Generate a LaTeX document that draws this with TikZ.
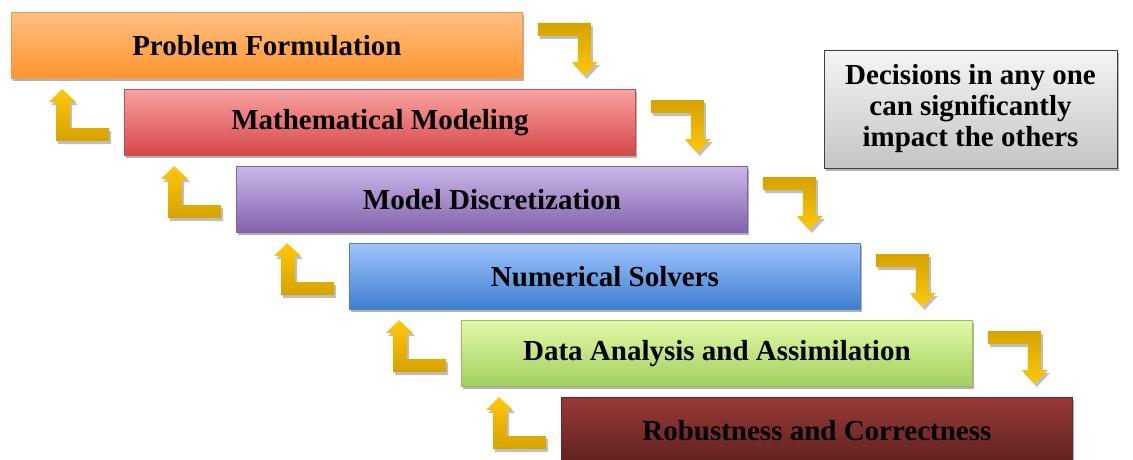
\documentclass[tikz,border=0pt]{standalone}
\usepackage{fontspec}
\setmainfont{Liberation Serif}
\usetikzlibrary{shadows}
\definecolor{oTop}{HTML}{FFBF80}\definecolor{oBot}{HTML}{FF9430}\definecolor{oBd}{HTML}{F79646}
\definecolor{rTop}{HTML}{F9A3A1}\definecolor{rBot}{HTML}{D64749}\definecolor{rBd}{HTML}{C0504D}
\definecolor{pTop}{HTML}{CBB6E8}\definecolor{pBot}{HTML}{8262AC}\definecolor{pBd}{HTML}{8064A2}
\definecolor{bTop}{HTML}{9EC4FF}\definecolor{bBot}{HTML}{3F7ECF}\definecolor{bBd}{HTML}{4F81BD}
\definecolor{gTop}{HTML}{E2F9A8}\definecolor{gBot}{HTML}{A2CF5E}\definecolor{gBd}{HTML}{9BBB59}
\definecolor{mTop}{HTML}{973A37}\definecolor{mBot}{HTML}{60211F}\definecolor{mBd}{HTML}{6E2422}
\definecolor{goldDark}{HTML}{D6A200}\definecolor{goldLight}{HTML}{FFC70A}
\definecolor{grTop}{HTML}{F5F5F5}\definecolor{grBot}{HTML}{C4C4C4}\definecolor{grBd}{HTML}{404040}
\begin{document}
\begin{tikzpicture}[x=1pt,y=-1pt,
  shade/.style={drop shadow={shadow xshift=2pt,shadow yshift=-3pt,opacity=0.3,fill=black}},
  stage/.style n args={3}{draw=#3,line width=0.8pt,top color=#1,bottom color=#2,
    minimum width=511pt,minimum height=66pt,anchor=north west,inner sep=0pt,
    font=\fontsize{29}{34}\selectfont\bfseries,shade},
  goldR/.style={top color=goldDark,bottom color=goldLight,draw=none,
    drop shadow={shadow xshift=2pt,shadow yshift=-3pt,opacity=0.25,fill=black}},
  goldL/.style={top color=goldLight,bottom color=goldDark,draw=none,
    drop shadow={shadow xshift=2pt,shadow yshift=-3pt,opacity=0.25,fill=black}},
  note/.style={draw=grBd,line width=0.8pt,top color=grTop,bottom color=grBot,
    minimum width=293pt,minimum height=118pt,inner sep=0pt,align=center,
    font=\fontsize{29}{31}\selectfont\bfseries,shade}
]
\clip (0,0) rectangle (1133,460);
\node[stage={oTop}{oBot}{oBd}] (b1) at (11,12) {Problem Formulation};
\node[stage={rTop}{rBot}{rBd}] (b2) at (124,89) {Mathematical Modeling};
\node[stage={pTop}{pBot}{pBd}] (b3) at (236,166) {Model Discretization};
\node[stage={bTop}{bBot}{bBd}] (b4) at (349,243) {Numerical Solvers};
\node[stage={gTop}{gBot}{gBd}] (b5) at (461,320) {Data Analysis and Assimilation};
\node[stage={mTop}{mBot}{mBd}] (b6) at (561,397) {Robustness and Correctness};
\node[note] (n) at (970.5,109) {Decisions in any one\\can significantly\\impact the others};
\foreach \a/\b in {b1/b2,b2/b3,b3/b4,b4/b5,b5/b6}{
  \begin{scope}[shift={(\a.north east)}]
    \path[goldR] (15,11) -- (68,11) -- (68,50) -- (75,50) -- (62,64) -- (49,50)
      -- (55,50) -- (55,24) -- (15,24) -- cycle;
  \end{scope}
  \begin{scope}[shift={(\b.north west)}]
    \path[goldL] (-62,0) -- (-48,13) -- (-54,13) -- (-54,39) -- (-15,39)
      -- (-15,52) -- (-68,52) -- (-68,13) -- (-75,13) -- cycle;
  \end{scope}
}
\end{tikzpicture}
\end{document}
